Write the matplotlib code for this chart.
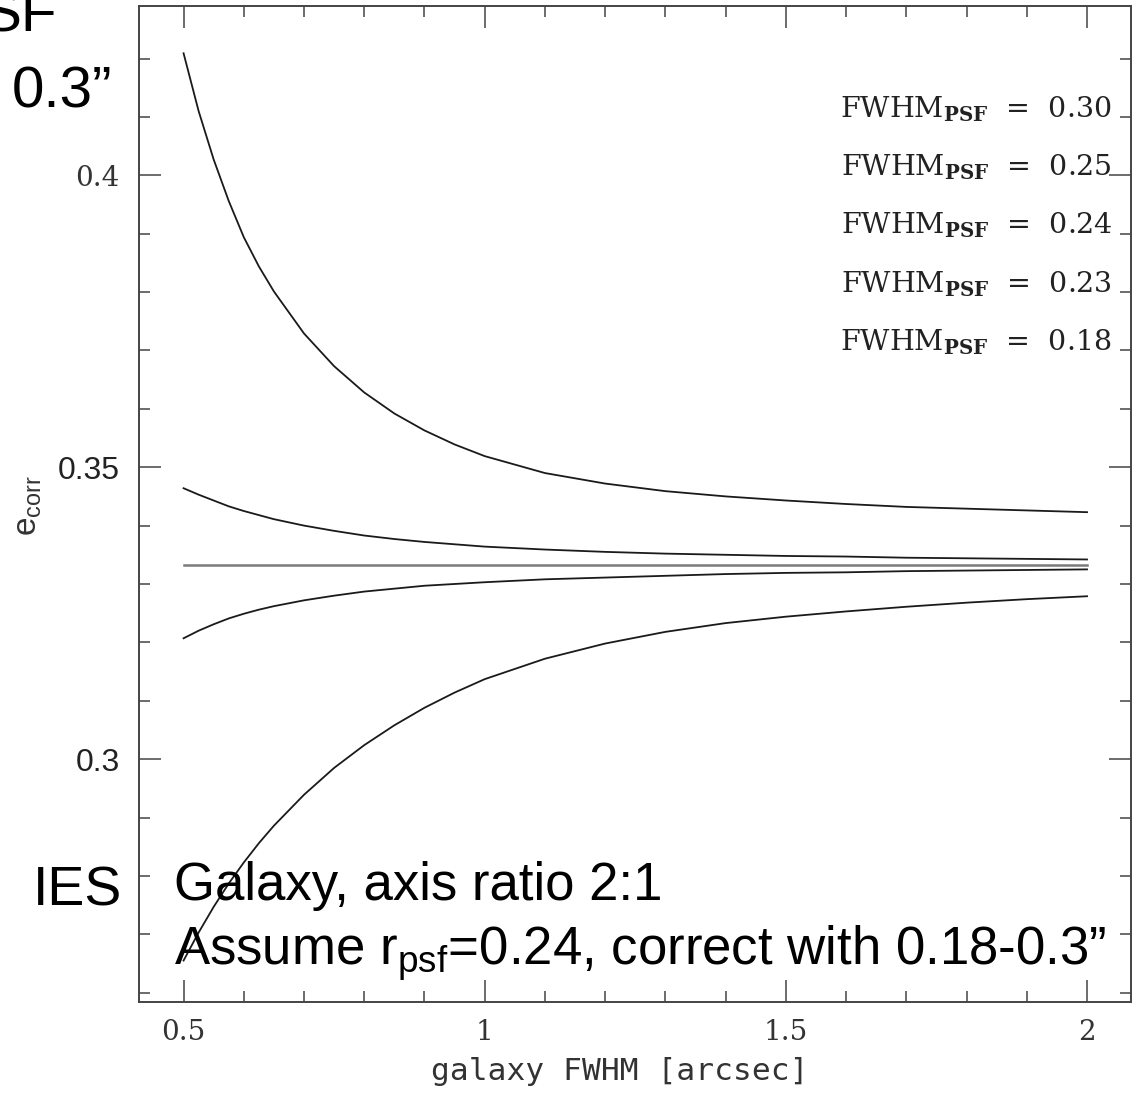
import matplotlib
matplotlib.use('Agg')
import matplotlib.pyplot as plt
from matplotlib.ticker import MultipleLocator

plt.rcParams['mathtext.fontset'] = 'custom'
plt.rcParams['mathtext.rm'] = 'Liberation Sans'
plt.rcParams['mathtext.bf'] = 'DejaVu Serif:bold'

# galaxy FWHM [arcsec]
fwhm_gal = [0.5, 0.525, 0.55, 0.575, 0.6, 0.625, 0.65, 0.7, 0.75, 0.8, 0.85, 0.9,
            0.95, 1.0, 1.1, 1.2, 1.3, 1.4, 1.5, 1.6, 1.7, 1.8, 1.9, 2.0]

# corrected ellipticity for each PSF FWHM used in the correction
e_030 = [0.4209, 0.4110, 0.4027, 0.3956, 0.3894, 0.3844, 0.3801, 0.3729, 0.3673,
         0.3628, 0.3592, 0.3563, 0.3539, 0.3519, 0.3490, 0.3472, 0.3459, 0.3450,
         0.3443, 0.3437, 0.3432, 0.3429, 0.3426, 0.3423]
e_025 = [0.3464, 0.3453, 0.3443, 0.3433, 0.3425, 0.3418, 0.3411, 0.3400, 0.3391,
         0.3383, 0.3377, 0.3372, 0.3368, 0.3364, 0.3359, 0.3355, 0.3352, 0.3350,
         0.3348, 0.3347, 0.3345, 0.3344, 0.3343, 0.3342]
e_023 = [0.3207, 0.3220, 0.3231, 0.3241, 0.3249, 0.3256, 0.3262, 0.3272, 0.3280,
         0.3287, 0.3292, 0.3297, 0.3300, 0.3303, 0.3308, 0.3311, 0.3314, 0.3317,
         0.3319, 0.3320, 0.3322, 0.3323, 0.3324, 0.3325]
e_018 = [0.2655, 0.2703, 0.2747, 0.2787, 0.2823, 0.2856, 0.2886, 0.2939, 0.2985,
         0.3024, 0.3058, 0.3088, 0.3114, 0.3137, 0.3172, 0.3198, 0.3218, 0.3233,
         0.3244, 0.3253, 0.3261, 0.3268, 0.3274, 0.3279]

# correct PSF (0.24) gives the true value
fwhm_flat = [0.5, 2.0]
e_024 = [0.3333, 0.3333]

psf_labels = ['0.30', '0.25', '0.24', '0.23', '0.18']
label_y = [0.41, 0.40, 0.39, 0.38, 0.37]

W, H = 1136, 1095
fig = plt.figure(figsize=(W / 100, H / 100), dpi=100)
ax = fig.add_axes([139 / W, 1 - 1002 / H, 992 / W, 996 / H])

ax.plot(fwhm_gal, e_030, color='#1a1a1a', lw=1.3)
ax.plot(fwhm_gal, e_025, color='#1a1a1a', lw=1.3)
ax.plot(fwhm_flat, e_024, color='#7a7a7a', lw=1.8)
ax.plot(fwhm_gal, e_023, color='#1a1a1a', lw=1.3)
ax.plot(fwhm_gal, e_018, color='#1a1a1a', lw=1.3)

ax.set_xlim(0.426, 2.073)
ax.set_ylim(0.2584, 0.4290)

ax.set_xticks([0.5, 1, 1.5, 2])
ax.set_xticklabels(['0.5', '1', '1.5', '2'])
ax.set_yticks([0.3, 0.35, 0.4])
ax.set_yticklabels(['0.3', '0.35', '0.4'])
ax.xaxis.set_minor_locator(MultipleLocator(0.1))
ax.yaxis.set_minor_locator(MultipleLocator(0.01))
ax.tick_params(which='both', direction='in', top=True, right=True,
               color='#444444', width=1.1)
ax.tick_params(which='major', length=15.5)
ax.tick_params(which='minor', length=7.8)
ax.tick_params(axis='x', pad=12)
ax.tick_params(axis='y', pad=14)
for s in ax.spines.values():
    s.set_linewidth(1.4)
    s.set_color('#444444')

for lbl in ax.get_xticklabels():
    lbl.set_fontfamily('DejaVu Serif')
    lbl.set_fontsize(20)
    lbl.set_color('#333333')
for lbl in ax.get_yticklabels():
    if lbl.get_text() == '0.4':
        lbl.set_fontfamily('DejaVu Serif')
        lbl.set_fontsize(20)
        lbl.set_color('#333333')
    else:
        lbl.set_fontfamily('Liberation Sans')
        lbl.set_fontsize(23)
        lbl.set_color('#222222')

for lab, yy in zip(psf_labels, label_y):
    ax.text(2.041, yy, r'FWHM$_{\mathbf{PSF}}$  =  ' + lab, ha='right', va='baseline',
            fontfamily='DejaVu Serif', fontsize=20.5, color='#222222')

# axis titles
fig.text(620 / W, 1 - 1072 / H, 'galaxy FWHM [arcsec]', ha='center', va='center',
         fontfamily='DejaVu Sans Mono', fontsize=22.5, color='#333333')
fig.text(28 / W, 1 - 506 / H, r'e$_{\mathrm{corr}}$', ha='center', va='center', rotation=90,
         fontfamily='Liberation Sans', fontsize=24, color='#333333')

# slide text overlay (partly cut off, as in the slide)
fig.text(57 / W, 1 - 32 / H, 'SF', ha='right', va='baseline',
         fontfamily='Liberation Sans', fontsize=42)
fig.text(112 / W, 1 - 108 / H, '0.3\u201d', ha='right', va='baseline',
         fontfamily='Liberation Sans', fontsize=42)
fig.text(122 / W, 1 - 906 / H, 'IES', ha='right', va='baseline',
         fontfamily='Liberation Sans', fontsize=40)
fig.text(174 / W, 1 - 900 / H, 'Galaxy, axis ratio 2:1', ha='left', va='baseline',
         fontfamily='Liberation Sans', fontsize=38)
fig.text(174 / W, 1 - 965 / H, 'Assume r$_{\\mathrm{psf}}$=0.24, correct with 0.18-0.3\u201d',
         ha='left', va='baseline', fontfamily='Liberation Sans', fontsize=38)

fig.savefig('out.png', dpi=100)
